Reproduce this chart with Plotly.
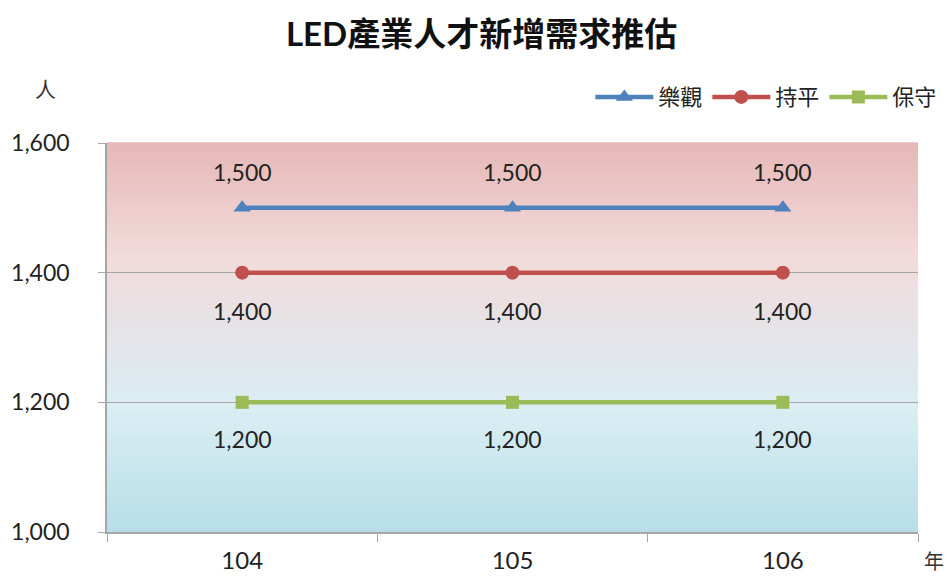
import plotly.graph_objects as go

years = ["104", "105", "106"]
optimistic = [1500, 1500, 1500]
neutral = [1400, 1400, 1400]
conservative = [1200, 1200, 1200]
series_names = ["樂觀", "持平", "保守"]
y_ticks = [1000, 1200, 1400, 1600]

FONT = "Lato, 'Noto Sans CJK TC', sans-serif"
CJK = "'Noto Sans CJK TC', sans-serif"

fig = go.Figure()
styles = [
    (optimistic, "#4F81BD", "triangle-up", 15, 36),
    (neutral, "#C0504D", "circle", 14, -38),
    (conservative, "#9BBB59", "square", 13, -37),
]
for name, (vals, col, sym, ms, shift) in zip(series_names, styles):
    fig.add_trace(go.Scatter(
        x=years, y=vals, name=name, mode="lines+markers",
        line=dict(color=col, width=4.5),
        marker=dict(symbol=sym, size=ms, color=col),
    ))
    for i, yv in enumerate(vals):
        fig.add_annotation(x=i, y=yv, xref="x", yref="y", text=f"{yv:,}", showarrow=False,
                           yshift=shift, font=dict(family=FONT, size=23, color="#222222"))

# gradient background
stops = [(0.0, (183, 222, 232)), (0.32, (218, 238, 243)), (0.5, (228, 228, 233)),
         (0.7, (242, 220, 219)), (1.0, (230, 184, 183))]
N = 120
def col_at(t):
    for (t0, c0), (t1, c1) in zip(stops[:-1], stops[1:]):
        if t0 <= t <= t1:
            f = (t - t0) / (t1 - t0)
            return tuple(round(a + (b - a) * f) for a, b in zip(c0, c1))
    return stops[-1][1]
for i in range(N):
    t = (i + 0.5) / N
    r, g, b = col_at(t)
    fig.add_shape(type="rect", xref="x domain", yref="y domain",
                  x0=0, x1=1, y0=i / N, y1=(i + 1) / N + 0.002,
                  fillcolor=f"rgb({r},{g},{b})", line=dict(width=0), layer="below")

fig.add_annotation(xref="paper", yref="paper", x=-0.076, y=1.141, text="人",
                   xanchor="center", yanchor="middle",
                   showarrow=False, font=dict(family=CJK, size=21, color="#333333"))
fig.add_annotation(xref="paper", yref="paper", x=1.02, y=-0.072, text="年",
                   xanchor="center", yanchor="middle",
                   showarrow=False, font=dict(family=CJK, size=20, color="#333333"))

fig.update_layout(
    width=948, height=578,
    margin=dict(l=107, r=30, t=143, b=46, autoexpand=False),
    paper_bgcolor="white", plot_bgcolor="rgba(0,0,0,0)",
    title=dict(text="<b>LED產業人才新增需求推估</b>", x=0.508, xanchor="center",
               y=0.94, yanchor="middle", font=dict(family=FONT, size=33, color="#111111")),
    font=dict(family=FONT, size=20, color="#222222"),
    legend=dict(orientation="h", x=1.03, xanchor="right", y=1.118, yanchor="middle",
                font=dict(family=CJK, size=22, color="#222222"), bgcolor="rgba(0,0,0,0)",
                itemwidth=58, tracegroupgap=0),
    showlegend=True,
)
fig.update_xaxes(type="category", range=[-0.5, 2.5], tickson="boundaries",
                 ticks="outside", ticklen=8, tickcolor="#A6A6A6", automargin=False,
                 showline=True, linecolor="#A6A6A6", linewidth=1.5,
                 showgrid=False, ticklabelstandoff=6,
                 tickfont=dict(family=FONT, size=24, color="#222222"))
fig.update_yaxes(range=[1000, 1600], tickvals=y_ticks, automargin=False,
                 ticktext=[f"{v:,}" for v in y_ticks],
                 ticks="outside", ticklen=7, tickcolor="#A6A6A6",
                 showline=True, linecolor="#A6A6A6", linewidth=1.5,
                 showgrid=True, gridcolor="#A6A6A6", gridwidth=1,
                 zeroline=False, ticklabelstandoff=24,
                 tickfont=dict(family=FONT, size=23, color="#222222"))

fig.write_html("out.html")
